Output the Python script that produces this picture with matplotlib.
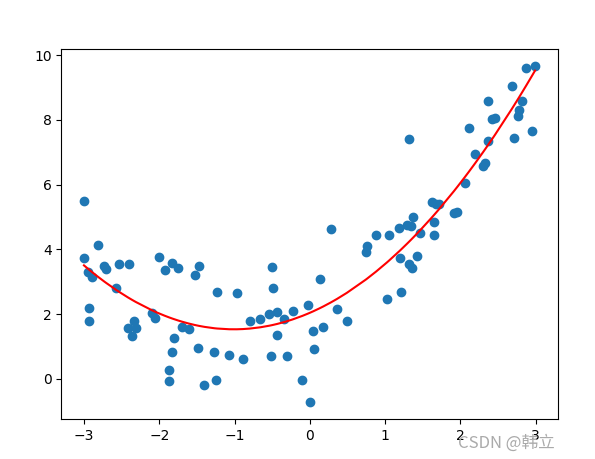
"""Scatter of noisy samples with a quadratic least-squares fit."""

import matplotlib
matplotlib.use("Agg")
import matplotlib.pyplot as plt
import numpy as np

# sample points
x = [
    -3.00, -3.00, -2.94, -2.89, -2.81, -2.73, -2.71, -2.93, -2.93, -2.54,
    -2.57, -2.40, -2.34, -2.42, -2.31, -2.36, -2.01, -1.83, -1.93, -1.75,
    -2.10, -2.05, -1.81, -1.83, -1.87, -1.87, -1.70, -1.61, -1.47, -1.53,
    -0.50, -0.49, -1.23, -0.97, 0.13, 0.28, -0.80, -0.66, -0.54, -0.43,
    -0.34, -0.23, -0.02, -0.44, 0.04, 0.18, -1.48, -1.27, -1.07, -0.89,
    -0.51, -0.31, 0.05, -1.40, -1.25, -0.10, 0.00, 0.36, 0.49, 0.76,
    0.74, 0.88, 1.05, 1.02, 1.21, 1.20, 1.32, 1.36, 1.42, 1.19,
    1.29, 1.34, 1.37, 1.46, 1.65, 1.65, 1.62, 1.68, 1.71, 1.91,
    1.96, 2.06, 2.11, 2.19, 2.32, 2.30, 2.37, 2.42, 2.46, 2.37,
    2.68, 2.82, 2.78, 2.76, 2.71, 2.95, 2.87, 2.99, 1.31,
]
y = [
    5.50, 3.73, 3.29, 3.16, 4.14, 3.49, 3.39, 2.18, 1.78, 3.55,
    2.80, 3.55, 1.79, 1.57, 1.57, 1.33, 3.76, 3.58, 3.36, 3.42,
    2.03, 1.89, 1.26, 0.82, 0.27, -0.07, 1.61, 1.53, 3.49, 3.20,
    3.45, 2.80, 2.68, 2.65, 3.08, 4.62, 1.79, 1.84, 2.00, 2.06,
    1.86, 2.10, 2.27, 1.37, 1.47, 1.60, 0.95, 0.82, 0.73, 0.62,
    0.71, 0.71, 0.92, -0.19, -0.04, -0.04, -0.72, 2.15, 1.78, 4.10,
    3.91, 4.44, 4.44, 2.47, 2.68, 3.73, 3.54, 3.41, 3.79, 4.65,
    4.76, 4.73, 4.99, 4.50, 4.83, 4.43, 5.45, 5.40, 5.40, 5.11,
    5.14, 6.04, 7.74, 6.94, 6.66, 6.57, 7.34, 8.02, 8.07, 8.57,
    9.03, 8.57, 8.30, 8.13, 7.43, 7.65, 9.59, 9.66, 7.40,
]

WATERMARK = "CSDN @韩立"


def main() -> None:
    xs = np.array(x)
    ys = np.array(y)

    # quadratic fit, drawn along sorted x
    coef = np.polyfit(xs, ys, 2)
    order = np.argsort(xs)
    y_pred = np.polyval(coef, xs)

    fig = plt.figure(figsize=(5.95, 4.59), dpi=100)
    fig.subplots_adjust(left=0.1032, right=0.9371, bottom=0.0871, top=0.8928)
    ax = fig.add_subplot(111)
    ax.scatter(xs, ys)
    ax.plot(xs[order], y_pred[order], color="r")

    fig.text(458 / 595, 1 - 448 / 459, WATERMARK, fontsize=12, color="#aaaaaa",
             family=["Noto Sans CJK SC", "DejaVu Sans"])

    fig.savefig("out.png", dpi=100)
    plt.close(fig)


if __name__ == "__main__":
    main()
